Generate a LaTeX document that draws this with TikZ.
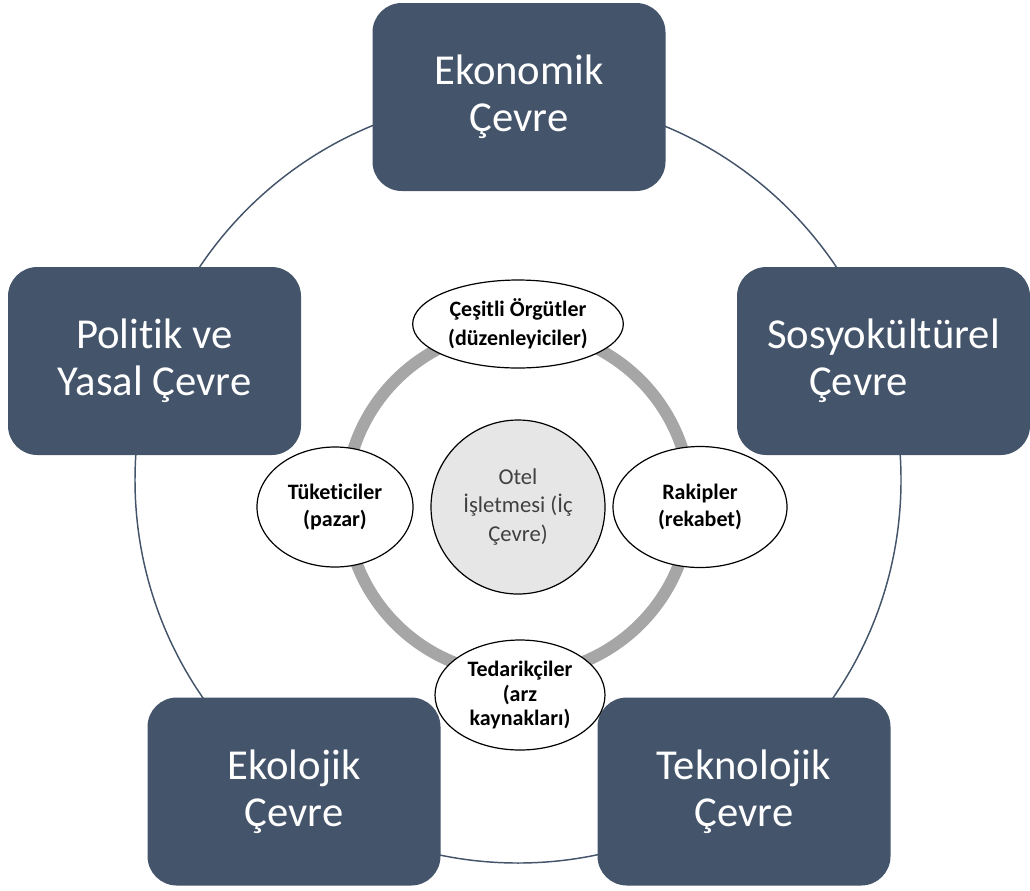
\documentclass[tikz,border=0pt]{standalone}
\usepackage{fontspec}
\setmainfont{Carlito}[Ligatures={NoCommon}]
\usetikzlibrary{shapes.geometric}
\definecolor{slate}{HTML}{44546A}
\definecolor{ringgray}{HTML}{A6A6A6}
\definecolor{coregray}{HTML}{E6E6E6}
\definecolor{coretext}{HTML}{404040}
\begin{document}
\begin{tikzpicture}[x=0.75pt,y=-0.75pt,
    envbox/.style={fill=slate, rounded corners=22pt, minimum width=219.75pt, minimum height=141pt,
      inner sep=0pt, text=white, align=center, font=\fontsize{32}{35}\selectfont},
    actor/.style={ellipse, draw, line width=0.9pt, fill=white, inner sep=0pt, align=center,
      font=\fontsize{16.5}{20}\bfseries\selectfont}]
  \useasboundingbox (0,0) rectangle (1030,890);
  \draw[slate, line width=1.1pt](518,480) circle [radius=287.25pt];
  \draw[ringgray, line width=9pt](518,502) circle [radius=129.5pt];
  \path(519,97) node[envbox] (ekonomik) {Ekonomik\\Çevre};
  \path(154.5,361) node[envbox] (politik) {Politik ve\\Yasal Çevre};
  \path(883.5,361) node[envbox] (sosyo) {Sosyokültürel\\Çevre\hspace*{37.5pt}};
  \path(294,791.5) node[envbox] (ekolojik) {Ekolojik\\Çevre};
  \path(744,791.5) node[envbox] (teknolojik) {Teknolojik\\Çevre};
  \path(518,507) node[circle, draw, line width=0.9pt, fill=coregray, minimum size=130.5pt, inner sep=0pt,
    align=center, text=coretext, font=\fontsize{17}{21.5}\selectfont] (otel) {Otel\\İşletmesi (İç\\Çevre)};
  \path(518,324) node[actor, minimum width=158pt, minimum height=66pt] (cesitli) {Çeşitli Örgütler\\[2pt](düzenleyiciler)};
  \path(335,507) node[actor, minimum width=117pt, minimum height=90pt] (tuketici) {Tüketiciler\\(pazar)};
  \path(700,507) node[actor, minimum width=130.5pt, minimum height=90.75pt] (rakip) {Rakipler\\(rekabet)};
  \path(520,695) node[actor, minimum width=127.5pt, minimum height=82.5pt, font=\fontsize{16.5}{18.5}\bfseries\selectfont] (tedarik) {Tedarikçiler\\(arz\\kaynakları)};
\end{tikzpicture}
\end{document}
